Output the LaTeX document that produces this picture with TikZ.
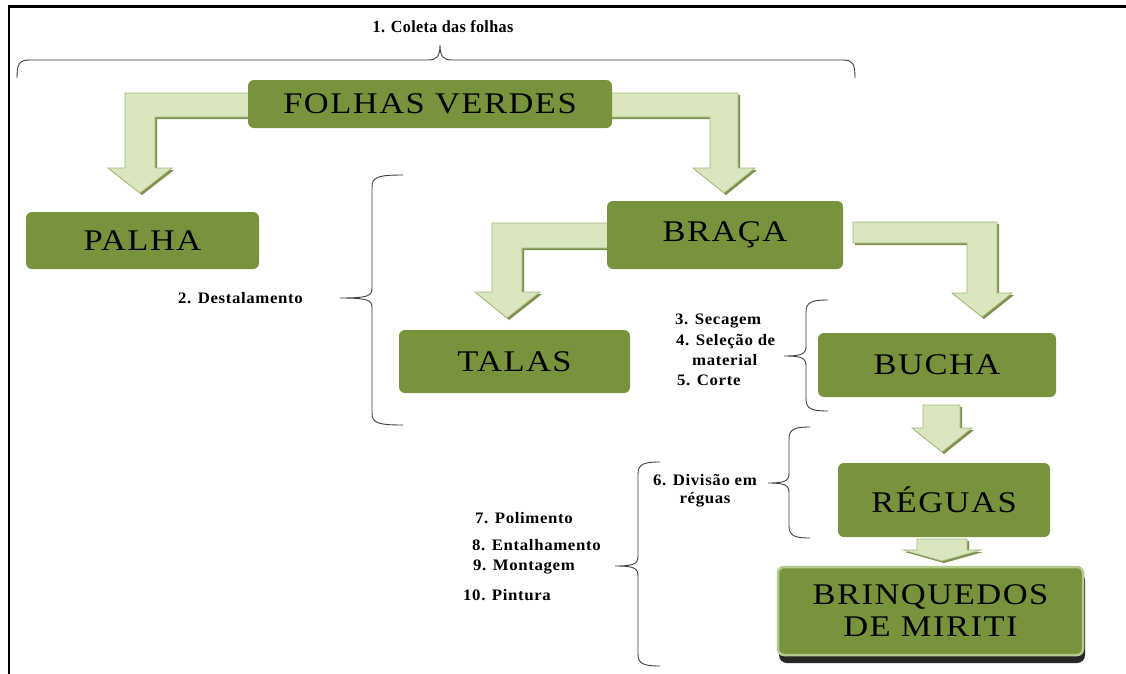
\documentclass[tikz,border=0pt]{standalone}
\usepackage{fontspec}
\setmainfont{Liberation Serif}
\newfontfamily\boxfont[LetterSpace=5,FakeStretch=1.15]{Liberation Serif}
\newfontfamily\labfont[LetterSpace=4,FakeStretch=1.05]{Liberation Serif}
\newfontfamily\coletafont[LetterSpace=2,FakeStretch=0.95]{Liberation Serif}
\definecolor{boxg}{HTML}{77933C}
\definecolor{boxedge}{HTML}{B4C98C}
\definecolor{arrF}{HTML}{D9E6C0}
\definecolor{arrE}{HTML}{A3B978}
\definecolor{arrS}{HTML}{7E9150}
\definecolor{bracec}{HTML}{404040}
\tikzset{
  gbox/.style={rounded corners=6pt, fill=boxg, inner sep=0pt, text=black,
    font=\boxfont\fontsize{30}{32}\selectfont, align=center},
  barrow/.style={fill=arrF, draw=arrE, line width=0.7pt},
  bracel/.style={draw=bracec, line width=0.9pt},
  lab/.style={inner sep=0pt, text=black, font=\labfont\bfseries\fontsize{16}{18}\selectfont},
}
\newcommand\blockarrow[1]{%
  \fill[arrS, xshift=2pt, yshift=-2pt] #1;
  \path[barrow] #1;}
\newcommand\sidebrace[6]{% xv, ytop, ybot, xend, xtip, ytip
  \draw[bracel] (#4,#2) .. controls ({#1+6},#2) and (#1,{#2+2}) .. (#1,{#2+12})
    -- (#1,{#6-10}) .. controls (#1,{#6-2}) and ({#1-4},#6) .. (#5,#6)
    .. controls ({#1-4},#6) and (#1,{#6+2}) .. (#1,{#6+10})
    -- (#1,{#3-12}) .. controls (#1,{#3-2}) and ({#1+6},#3) .. (#4,#3);}
\begin{document}
\begin{tikzpicture}[x=1pt,y=-1pt]
\useasboundingbox[fill=white] (0,0) rectangle (1126,673);
% frame lines
\draw[line width=2.6pt, line cap=rect] (9,673) -- (9,6.5) -- (1126,6.5);

% block arrows (drawn under the boxes)
\blockarrow{(252,93) -- (125,93) -- (125,168) -- (108,168) -- (140,193) -- (172,168) -- (155,168) -- (155,117) -- (252,117) -- cycle}
\blockarrow{(608,93) -- (738,93) -- (738,168) -- (755,168) -- (724,193) -- (693,168) -- (710,168) -- (710,117) -- (608,117) -- cycle}
\blockarrow{(610,223) -- (492,223) -- (492,292) -- (475,292) -- (507,318) -- (540,292) -- (522,292) -- (522,248) -- (610,248) -- cycle}
\blockarrow{(853,222) -- (997,222) -- (997,293) -- (1012,293) -- (982,317) -- (952,293) -- (967,293) -- (967,243) -- (853,243) -- cycle}
\blockarrow{(923,405) -- (960,405) -- (960,428) -- (972,428) -- (942,452) -- (912,428) -- (923,428) -- cycle}
\blockarrow{(917,539) -- (967,539) -- (967,550) -- (981,550) -- (942,561) -- (903,550) -- (917,550) -- cycle}

% boxes
\node[gbox, minimum width=364pt, minimum height=48pt] (folhas) at (430,104) {FOLHAS VERDES};
\node[gbox, minimum width=233pt, minimum height=57pt] (palha) at (142.5,240.5) {PALHA};
\node[gbox, minimum width=236pt, minimum height=68pt] (braca) at (725,235) {BRAÇA};
\node[gbox, minimum width=231pt, minimum height=63pt] (talas) at (514.5,361.5) {TALAS};
\node[gbox, minimum width=238pt, minimum height=64pt] (bucha) at (937,365) {BUCHA};
\node[gbox, minimum width=212pt, minimum height=74pt] (reguas) at (944,500) {RÉGUAS};
\fill[black!85, rounded corners=8pt] (779,572) rectangle (1085,663);
\node[gbox, draw=boxedge, line width=2.5pt, minimum width=305pt, minimum height=88pt] (brinq) at (930.5,611) {BRINQUEDOS\\DE MIRITI};

% braces
\draw[bracel] (17,78) .. controls (17,64) and (19,60) .. (30,60) -- (428,60)
  .. controls (437,60) and (440,56) .. (440,45) .. controls (440,56) and (443,60) .. (452,60)
  -- (843,60) .. controls (853,60) and (855,64) .. (855,78);
\sidebrace{372}{175}{425}{403}{340}{298}
\sidebrace{806}{300}{411}{828}{784}{356}
\sidebrace{789}{427}{538}{810}{768}{483}
\sidebrace{638}{462}{666}{660}{615}{566}

% labels
\node[inner sep=0pt, font=\coletafont\bfseries\fontsize{17}{18}\selectfont] (coleta) at (443,27) {1. Coleta das folhas};
\node[lab, anchor=east] (destal) at (303,298) {2. Destalamento};
\node[lab, anchor=west] (sec) at (675,321) {3. Secagem};
\node[lab, anchor=west] (sel) at (676,342) {4. Seleção de};
\node[lab, anchor=west] (mat) at (692,360) {material};
\node[lab, anchor=west] (corte) at (677,380) {5. Corte};
\node[lab, align=center] (div) at (705,491) {6. Divisão em\\réguas};
\node[lab, anchor=west] (pol) at (475,518) {7. Polimento};
\node[lab, anchor=west] (ent) at (472,545) {8. Entalhamento};
\node[lab, anchor=west] (mon) at (473,567) {9. Montagem};
\node[lab, anchor=west] (pin) at (463,595) {10. Pintura};
\end{tikzpicture}
\end{document}
